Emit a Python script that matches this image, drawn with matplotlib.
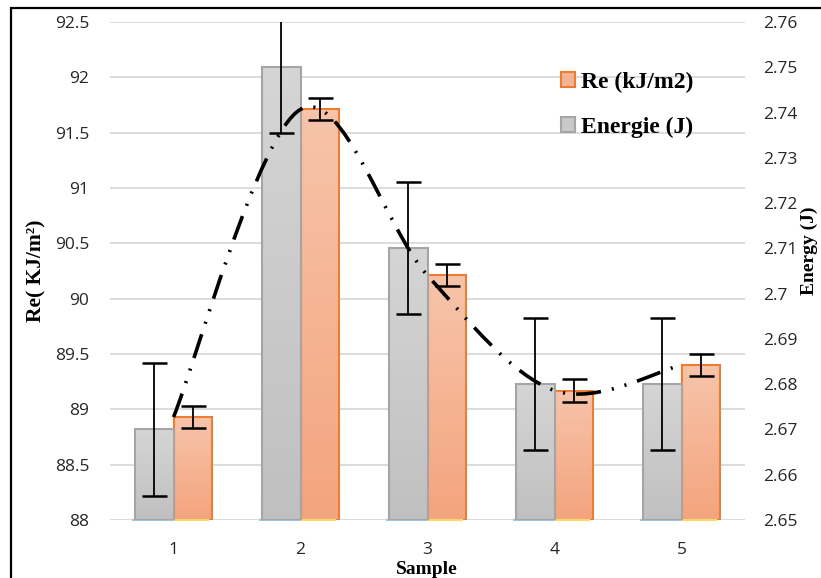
import numpy as np
import matplotlib
matplotlib.use('Agg')
import matplotlib.pyplot as plt
from matplotlib.colors import LinearSegmentedColormap
from matplotlib.patches import Patch, PathPatch, Rectangle
from matplotlib.path import Path

plt.rcParams['lines.scale_dashes'] = False

# Measured values per sample
samples = [1, 2, 3, 4, 5]
re_values = [88.93, 91.71, 90.21, 89.17, 89.40]      # kJ/m2
re_err = [0.10, 0.10, 0.10, 0.10, 0.10]
energy_values = [2.67, 2.75, 2.71, 2.68, 2.68]       # J
energy_err = [0.0146, 0.0146, 0.0146, 0.0146, 0.0146]

re_ticks = [88, 88.5, 89, 89.5, 90, 90.5, 91, 91.5, 92, 92.5]
energy_ticks = [2.65, 2.66, 2.67, 2.68, 2.69, 2.70, 2.71, 2.72, 2.73, 2.74, 2.75, 2.76]

tick_font = dict(family='Open Sans', size=12.5, color='#262626')
label_font = dict(family='Liberation Serif', weight='bold', size=14)

fig = plt.figure(figsize=(8.21, 5.78), dpi=100)
ax = fig.add_axes([110 / 821, 1 - 520 / 578, 635 / 821, 498 / 578])
ax2 = ax.twinx()

width = 0.3
x = np.array(samples, dtype=float)


def gradient_fill(axis, bars, top_col, bottom_col):
    cmap = LinearSegmentedColormap.from_list('bar', [bottom_col, top_col])
    grad = np.linspace(0, 1, 128).reshape(-1, 1)
    for b in bars:
        x0, y0 = b.get_xy()
        im = axis.imshow(grad, extent=[x0, x0 + b.get_width(), y0, y0 + b.get_height()],
                         origin='lower', cmap=cmap, aspect='auto', zorder=1.5,
                         interpolation='bilinear')
        im.set_clip_path(b)


# Re bars on the left axis
re_base = re_ticks[0]
bars_re = ax.bar(x + width / 2, np.array(re_values) - re_base, width, bottom=re_base,
                 facecolor='none', edgecolor='#ed7d31', linewidth=1.5, zorder=2)
gradient_fill(ax, bars_re, '#f7c4aa', '#f4a47e')
ax.errorbar(x + width / 2, re_values, yerr=re_err, fmt='none', ecolor='black',
            elinewidth=1.3, capsize=9, capthick=1.8, zorder=4)

# Energy bars on the right axis
en_base = energy_ticks[0]
bars_en = ax2.bar(x - width / 2, np.array(energy_values) - en_base, width, bottom=en_base,
                  facecolor='none', edgecolor='#a5a5a5', linewidth=1.5, zorder=2)
gradient_fill(ax2, bars_en, '#d5d5d5', '#c0c0c0')
ax2.errorbar(x - width / 2, energy_values, yerr=energy_err, fmt='none', ecolor='black',
             elinewidth=1.3, capsize=9, capthick=1.8, zorder=4)

# thin base strips under the bars
ax.hlines([re_base] * len(x), x - width - 0.03, x, colors='#9dc3e6', lw=1.5,
          zorder=3, clip_on=False)
ax.hlines([re_base] * len(x), x, x + width - 0.02, colors='#ffd966', lw=1.5,
          zorder=3, clip_on=False)

# smoothed Re curve (cubic Bezier segments through the points)
pts = np.column_stack([x, re_values])
verts = [pts[0]]
codes = [Path.MOVETO]
n = len(pts)
for i in range(n - 1):
    p_prev = pts[max(i - 1, 0)]
    p0, p1 = pts[i], pts[i + 1]
    p_next = pts[min(i + 2, n - 1)]
    c1 = p0 + (p1 - p_prev) / 6
    c2 = p1 - (p_next - p0) / 6
    verts += [c1, c2, p1]
    codes += [Path.CURVE4] * 3
curve = PathPatch(Path(verts, codes), fill=False, edgecolor='black', linewidth=2.6,
                  linestyle=(0, (18, 8, 1.5, 8, 1.5, 8)), transform=ax.transData,
                  zorder=5)
curve.set_capstyle('butt')
ax2.add_patch(curve)

# axes ranges and ticks
ax.set_xlim(0.5, 5.5)
ax.set_ylim(re_ticks[0], re_ticks[-1])
ax2.set_ylim(energy_ticks[0], energy_ticks[-1])
ax.set_xticks(samples)
ax.set_xticklabels([str(s) for s in samples], **tick_font)
ax.set_yticks(re_ticks)
ax.set_yticklabels(['%g' % t for t in re_ticks], **tick_font)
ax2.set_yticks(energy_ticks)
ax2.set_yticklabels(['%g' % round(t, 2) for t in energy_ticks], **tick_font)
ax.tick_params(axis='x', length=0, pad=16)
ax.tick_params(axis='y', length=0, pad=15)
ax2.tick_params(axis='y', length=0, pad=13)
for a in (ax, ax2):
    for s in a.spines.values():
        s.set_visible(False)
ax.yaxis.grid(True, color='#d9d9d9', linewidth=1.3)
ax.set_axisbelow(True)

# axis titles
fig.text(36 / 821, 1 - 271 / 578, 'Re( KJ/m²)', rotation=90, ha='center', va='center',
         **dict(label_font, size=15.5))
fig.text(809 / 821, 1 - 251 / 578, 'Energy (J)', rotation=90, ha='center', va='center', **label_font)
fig.text(427 / 821, 1 - 569 / 578, 'Sample', ha='center', va='center', **label_font)

# legend
handles = [Patch(facecolor='#f5b395', edgecolor='#ed7d31', linewidth=1.5, label='Re (kJ/m2)'),
           Patch(facecolor='#c9c9c9', edgecolor='#a5a5a5', linewidth=1.5, label='Energie (J)')]
ax2.legend(handles=handles, loc='upper left', bbox_to_anchor=(561 / 821, 1 - 72 / 578),
           bbox_transform=fig.transFigure, frameon=False,
           prop=dict(family='Liberation Serif', weight='bold', size=17),
           handlelength=0.6, handleheight=0.6, handletextpad=0.25, labelspacing=1.0,
           borderpad=0, borderaxespad=0)

# chart frame
fig.patches.append(Rectangle((11 / 821, -0.5), 2, 1.5 - 8 / 578, transform=fig.transFigure,
                             fill=False, edgecolor='black', linewidth=1.6))

fig.savefig('out.png', dpi=100)
